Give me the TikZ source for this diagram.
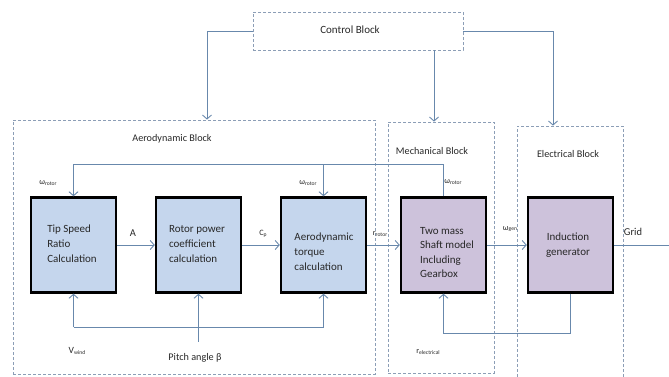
\documentclass[tikz,border=0pt]{standalone}
\usepackage{fontspec}
\setmainfont{Carlito}
\usetikzlibrary{arrows.meta}
\definecolor{boxblue}{RGB}{197,214,237}
\definecolor{boxpurple}{RGB}{205,194,219}
\definecolor{arrc}{RGB}{104,136,172}
\definecolor{dashc}{RGB}{140,158,182}
\definecolor{txtc}{RGB}{40,40,40}
\newcommand\symsub[2]{{\fontsize{8.2}{9}\selectfont #1\raisebox{-0.6pt}{\fontsize{5.6}{6}\selectfont #2}}}
\begin{document}
\begin{tikzpicture}[x=1pt,y=-1pt,
  blk/.style={draw=black, line width=2.4pt, minimum width=85pt, minimum height=95pt, inner sep=0pt},
  bluebox/.style={blk, fill=boxblue},
  purplebox/.style={blk, fill=boxpurple},
  grp/.style={draw=dashc, dash pattern=on 3pt off 2pt, line width=0.8pt, inner sep=0pt},
  conn/.style={draw=arrc, line width=0.9pt},
  arr/.style={conn, -{Straight Barb[length=4pt,width=9pt]}},
  txt/.style={text=txtc, inner sep=0pt, font=\fontsize{11}{15}\selectfont, align=left},
  ttl/.style={text=txtc, inner sep=0pt, font=\fontsize{10.2}{12}\selectfont},
  sml/.style={text=txtc, inner sep=0pt}
]
\useasboundingbox (0,0) rectangle (669,376);

% group blocks
\node[grp, minimum width=210pt, minimum height=38pt] (ctrl) at (358,31) {};
\node[ttl, font=\fontsize{11}{12}\selectfont] (ctrlt) at (350,30) {Control Block};
\node[grp, minimum width=362pt, minimum height=254pt] (aero) at (194,247) {};
\node[grp, minimum width=106pt, minimum height=251pt] (mech) at (441,247.5) {};
\node[grp, minimum width=106pt, minimum height=270pt] (elec) at (570,261) {};
\node[ttl] (aerot) at (172,139) {Aerodynamic Block};
\node[ttl] (mecht) at (432,151) {Mechanical Block};
\node[ttl] (elect) at (568,154) {Electrical Block};

% main boxes
\node[bluebox] (tsr) at (73.5,245) {};
\node[bluebox] (rpc) at (198.5,245) {};
\node[bluebox] (atc) at (323.5,245) {};
\node[purplebox] (tmm) at (443.5,245) {};
\node[purplebox] (ig) at (570.5,245) {};
\node[txt] (tsrt) at (72,244) {Tip Speed\\Ratio\\Calculation};
\node[txt] (rpct) at (197,244) {Rotor power\\coefficient\\calculation};
\node[txt] (atct) at (324,252) {Aerodynamic\\torque\\calculation};
\node[txt, font=\fontsize{11}{14.3}\selectfont] (tmmt) at (447,252.5) {Two mass\\Shaft model\\Including\\Gearbox};
\node[txt, align=center] (igt) at (568,245) {Induction\\generator};

% control connectors
\draw[arr] (ctrl.west) -| ([xshift=13pt]aero.north);
\draw[arr] ([xshift=-7pt]mech.north |- ctrl.south) -- ([xshift=-7pt]mech.north);
\draw[arr] (ctrl.east) -| ([xshift=-17pt]elec.north);

% forward path
\draw[arr] (tsr.east) -- (rpc.west);
\draw[arr] (rpc.east) -- (atc.west);
\draw[arr] (atc.east) -- (tmm.west);
\draw[arr] (tmm.east) -- (ig.west);
\coordinate (gridend) at (672,245);
\draw[conn] (ig.east) -- (gridend);

% rotor speed feedback
\path (tmm.north) ++(0,-32) coordinate (fbr);
\draw[arr] (tmm.north) -- (fbr) -| (tsr.north);
\draw[arr] (fbr -| atc.north) -- (atc.north);

% wind and pitch inputs
\path (tsr.south) ++(0,33.5) coordinate (vwj);
\draw[arr] (vwj) -- (tsr.south);
\draw[arr] (vwj) -| (atc.south);
\path (rpc.south) ++(0,48) coordinate (pitchj);
\draw[arr] (pitchj) -- (rpc.south);

% electrical torque feedback
\draw[arr] (ig.south) -- ++(0,39.5) -| (tmm.south);

% labels
\node[sml, font=\fontsize{10.5}{12}\selectfont] (lA) at (133,233) {A};
\node[sml] (lcp) at (263,234) {\symsub{C}{p}};
\node[sml] (lrr) at (380,234) {\symsub{r}{rotor}};
\node[sml] (lwg) at (510,229) {\symsub{ω}{gen}};
\node[sml, font=\fontsize{10.5}{12}\selectfont] (lgrid) at (633,232) {Grid};
\node[sml] (lw1) at (48,183) {\symsub{ω}{rotor}};
\node[sml] (lw2) at (308,183) {\symsub{ω}{rotor}};
\node[sml] (lw3) at (453,182) {\symsub{ω}{rotor}};
\node[sml] (lvw) at (77,351) {{\fontsize{9.5}{10}\selectfont V}\raisebox{-0.6pt}{\fontsize{5.6}{6}\selectfont wind}};
\node[sml, font=\fontsize{10.2}{12}\selectfont] (lpitch) at (195,358) {Pitch angle β};
\node[sml] (lre) at (428,352) {\symsub{r}{electrical}};
\end{tikzpicture}
\end{document}
